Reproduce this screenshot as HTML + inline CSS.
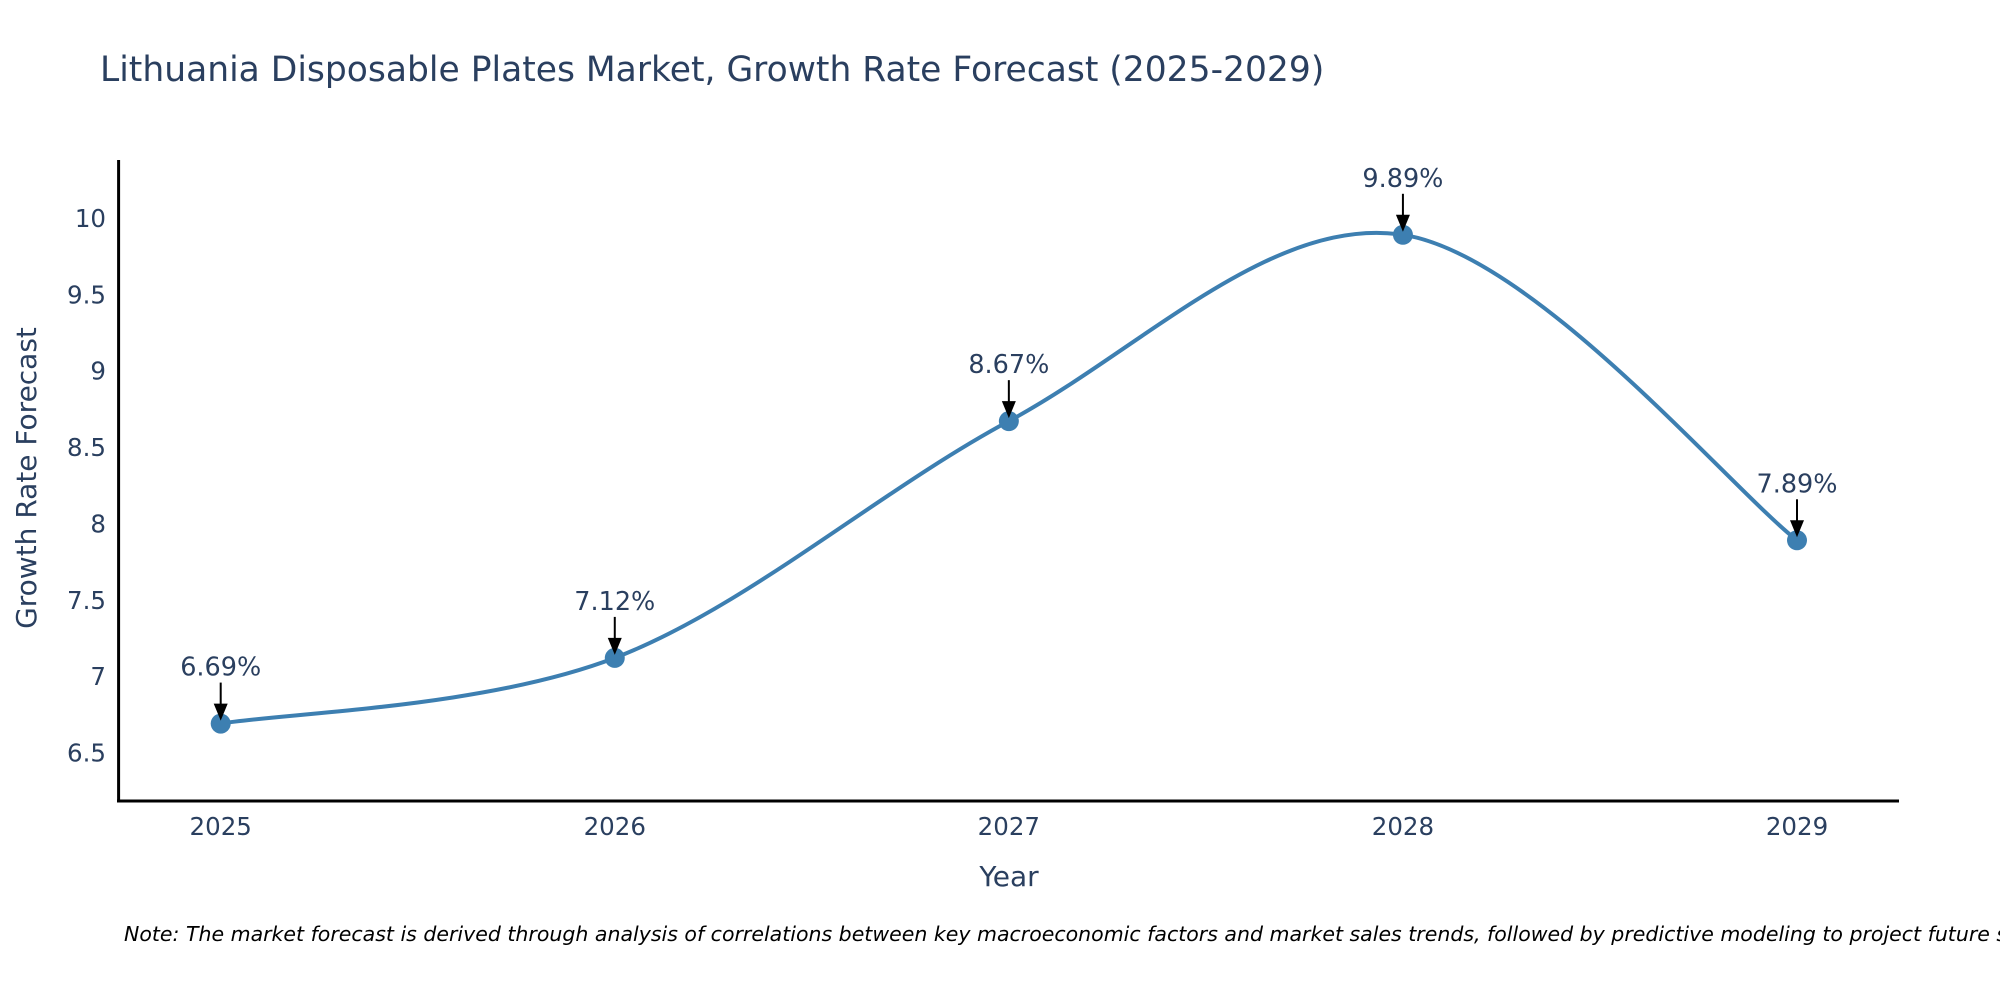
<!DOCTYPE html>
<html><head><meta charset="utf-8"><style>
body{margin:0;background:#fff;}
svg text{font-family:"DejaVu Sans","Liberation Sans",sans-serif;fill:#2a3f5f;}
</style></head><body>
<svg width="2000" height="1000" xmlns="http://www.w3.org/2000/svg">
<text x="100" y="81" font-size="34.5">Lithuania Disposable Plates Market, Growth Rate Forecast (2025-2029)</text>
<g id="axes"></g>
<g id="plot"></g>
<text transform="translate(36,478) rotate(-90)" text-anchor="middle" font-size="28">Growth Rate Forecast</text>
<text x="1009" y="886" text-anchor="middle" font-size="28">Year</text>
<text x="124" y="941" font-size="20.5" font-style="italic" style="fill:#000">Note: The market forecast is derived through analysis of correlations between key macroeconomic factors and market sales trends, followed by predictive modeling to project future sales.</text>
</svg>
<script>
const years=["2025","2026","2027","2028","2029"];
const values=[6.69,7.12,8.67,9.89,7.89];
const labels=["6.69%","7.12%","8.67%","9.89%","7.89%"];
const yTicks=[6.5,7,7.5,8,8.5,9,9.5,10];
const NS="http://www.w3.org/2000/svg";
const X0=220.7,X1=1797,Y10=218,Y65=752.6;
const xs=i=>X0+(X1-X0)*i/(years.length-1);
const ys=v=>Y65+(v-6.5)*(Y10-Y65)/3.5;
function mk(t,a,p){const e=document.createElementNS(NS,t);for(const k in a)e.setAttribute(k,a[k]);(p||document.getElementById('plot')).appendChild(e);return e;}
const ax=document.getElementById('axes');
let e=mk('line',{x1:118.6,y1:160,x2:118.6,y2:802,stroke:'#000','stroke-width':3},ax);


e=mk('line',{x1:117,y1:801,x2:1899,y2:801,stroke:'#000','stroke-width':3},ax);


yTicks.forEach(t=>{const el=mk('text',{x:106,y:ys(t)+9,'text-anchor':'end','font-size':24.5},ax);el.textContent=String(t);

});
years.forEach((y,i)=>{const el=mk('text',{x:xs(i),y:835,'text-anchor':'middle','font-size':24.5},ax);el.textContent=y;

});
const P=values.map((v,i)=>[xs(i),ys(v)]);
let d=`M${P[0][0]},${P[0][1]}`;
for(let i=0;i<P.length-1;i++){const p0=P[i-1]||P[i],p1=P[i],p2=P[i+1],p3=P[i+2]||P[i+1];const k=1/6;
d+=` C${p1[0]+(p2[0]-p0[0])*k},${p1[1]+(p2[1]-p0[1])*k} ${p2[0]-(p3[0]-p1[0])*k},${p2[1]-(p3[1]-p1[1])*k} ${p2[0]},${p2[1]}`;}
e=mk('path',{d:d,fill:'none',stroke:'#3d7fb1','stroke-width':4});


P.forEach((p,i)=>{const c=mk('circle',{cx:p[0],cy:p[1],r:10,fill:'#3d7fb1'});


const l=mk('line',{x1:p[0],y1:p[1]-41,x2:p[0],y2:p[1]-18,stroke:'#000','stroke-width':2});


const a=mk('polygon',{points:`${p[0]-7},${p[1]-20} ${p[0]+7},${p[1]-20} ${p[0]},${p[1]-3}`,fill:'#000'});


const t=mk('text',{x:p[0],y:p[1]-48,'text-anchor':'middle','font-size':25.5});t.textContent=labels[i];

});
</script>
</body></html>
